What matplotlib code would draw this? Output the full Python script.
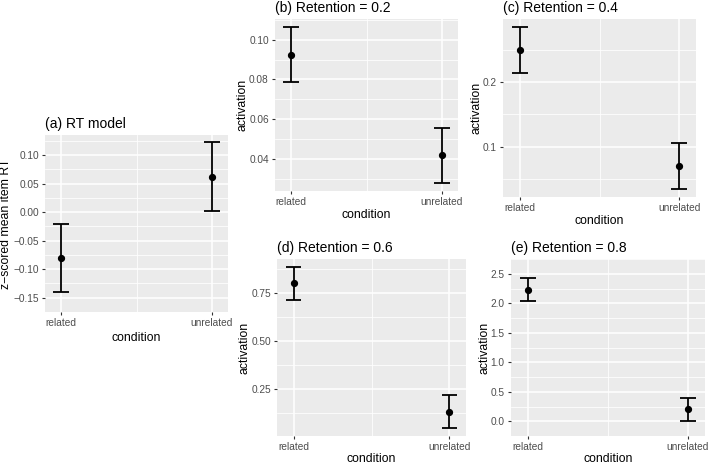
import numpy as np
import matplotlib
matplotlib.use("Agg")
import matplotlib.pyplot as plt

# data
conditions = ["related", "unrelated"]

rt_mean = [-0.080, 0.062]
rt_lo = [-0.140, 0.002]
rt_hi = [-0.020, 0.122]

r02_mean = [0.0925, 0.0418]
r02_lo = [0.0785, 0.0278]
r02_hi = [0.1065, 0.0558]

r04_mean = [0.250, 0.070]
r04_lo = [0.2145, 0.035]
r04_hi = [0.285, 0.1055]

r06_mean = [0.800, 0.130]
r06_lo = [0.715, 0.045]
r06_hi = [0.885, 0.215]

r08_mean = [2.23, 0.20]
r08_lo = [2.03, 0.00]
r08_hi = [2.43, 0.40]

plt.rcParams["font.family"] = ["Liberation Sans", "DejaVu Sans"]

W, H = 708, 465
fig = plt.figure(figsize=(W / 100, H / 100), dpi=100)


def panel(box, title, ylabel, mean, lo, hi, yticks, fmt, xpad=1.5, ypad=0.5):
    x0, y0, x1, y1 = box
    ax = fig.add_axes([x0 / W, 1 - y1 / H, (x1 - x0) / W, (y1 - y0) / H])
    ax.set_facecolor("#EBEBEB")
    for s in ax.spines.values():
        s.set_visible(False)

    x = np.arange(1, len(conditions) + 1)
    lo = np.array(lo)
    hi = np.array(hi)

    # ggplot-like 5% expansion on y
    rng = hi.max() - lo.min()
    ax.set_ylim(lo.min() - 0.05 * rng, hi.max() + 0.05 * rng)
    ax.set_xlim(0.894, 2.106)

    step = yticks[1] - yticks[0]
    ax.set_yticks(yticks)
    ax.set_yticklabels([fmt.format(v).replace("-", "\u2212") for v in yticks])
    minors = np.arange(yticks[0] - step / 2, yticks[-1] + step, step)
    ax.set_yticks(minors, minor=True)
    ax.set_xticks(x)
    ax.set_xticklabels(conditions)
    ax.set_xticks([1.5], minor=True)

    ax.grid(True, which="major", color="white", linewidth=1.1)
    ax.grid(True, which="minor", color="white", linewidth=0.55)
    ax.set_axisbelow(True)
    ax.tick_params(which="major", length=2.5, width=0.8, color="#333333",
                   labelsize=7.3, labelcolor="#4D4D4D", pad=2)
    ax.tick_params(which="minor", length=0)

    ax.vlines(x, lo, hi, color="black", linewidth=1.3)
    ax.hlines(lo, x - 0.05, x + 0.05, color="black", linewidth=1.3)
    ax.hlines(hi, x - 0.05, x + 0.05, color="black", linewidth=1.3)
    ax.plot(x, mean, "o", color="black", markersize=4.2)

    ax.set_title(title, loc="left", fontsize=10, pad=5)
    ax.set_xlabel("condition", fontsize=8.8, labelpad=xpad)
    ax.set_ylabel(ylabel, fontsize=8.8, labelpad=ypad)
    return ax


panel((45, 135, 228, 312), "(a) RT model", "z\u2212scored mean item RT",
      rt_mean, rt_lo, rt_hi, [-0.15, -0.10, -0.05, 0.00, 0.05, 0.10], "{:.2f}",
      xpad=2.5, ypad=1.0)
panel((275, 19, 458, 191), "(b) Retention = 0.2", "activation",
      r02_mean, r02_lo, r02_hi, [0.04, 0.06, 0.08, 0.10], "{:.2f}")
panel((503, 19, 696, 197), "(c) Retention = 0.4", "activation",
      r04_mean, r04_lo, r04_hi, [0.1, 0.2], "{:.1f}")
panel((277, 259, 466, 436), "(d) Retention = 0.6", "activation",
      r06_mean, r06_lo, r06_hi, [0.25, 0.50, 0.75], "{:.2f}", xpad=0.3)
panel((511, 259, 705, 436), "(e) Retention = 0.8", "activation",
      r08_mean, r08_lo, r08_hi, [0.0, 0.5, 1.0, 1.5, 2.0, 2.5], "{:.1f}", xpad=0.3)

fig.savefig("out.png", dpi=100)
